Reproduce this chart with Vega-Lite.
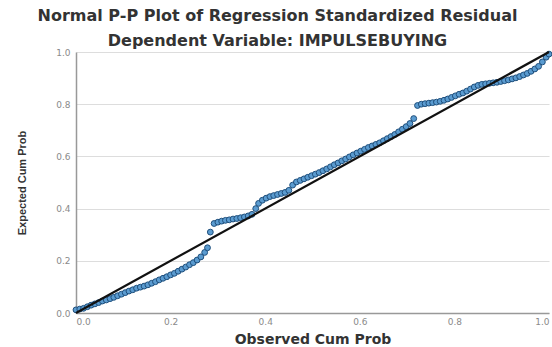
{
  "$schema": "https://vega.github.io/schema/vega-lite/v6.json",
  "autosize": {"type": "none"},
  "width": 473,
  "height": 261,
  "padding": {"left": 76, "top": 52, "right": 3, "bottom": 34},
  "background": "white",
  "title": {
    "text": ["Normal P-P Plot of Regression Standardized Residual", "Dependent Variable: IMPULSEBUYING"],
    "font": "DejaVu Sans",
    "fontSize": 16,
    "fontWeight": "bold",
    "color": "#333333",
    "lineHeight": 25,
    "anchor": "middle",
    "frame": "group",
    "dx": -35,
    "offset": -1
  },
  "datasets": {
    "pts": [
      {"obs":0.000,"exp":0.012},{"obs":0.008,"exp":0.015},{"obs":0.016,"exp":0.018},{"obs":0.024,"exp":0.024},
      {"obs":0.032,"exp":0.030},{"obs":0.040,"exp":0.035},{"obs":0.048,"exp":0.040},{"obs":0.056,"exp":0.046},
      {"obs":0.064,"exp":0.050},{"obs":0.072,"exp":0.055},{"obs":0.080,"exp":0.060},{"obs":0.088,"exp":0.066},
      {"obs":0.096,"exp":0.072},{"obs":0.104,"exp":0.078},{"obs":0.112,"exp":0.084},{"obs":0.120,"exp":0.089},
      {"obs":0.128,"exp":0.095},{"obs":0.136,"exp":0.099},{"obs":0.144,"exp":0.103},{"obs":0.152,"exp":0.108},
      {"obs":0.160,"exp":0.114},{"obs":0.168,"exp":0.120},{"obs":0.176,"exp":0.127},{"obs":0.184,"exp":0.133},
      {"obs":0.192,"exp":0.139},{"obs":0.200,"exp":0.146},{"obs":0.208,"exp":0.152},{"obs":0.216,"exp":0.160},
      {"obs":0.224,"exp":0.168},{"obs":0.232,"exp":0.176},{"obs":0.240,"exp":0.185},{"obs":0.248,"exp":0.193},
      {"obs":0.256,"exp":0.203},{"obs":0.264,"exp":0.215},{"obs":0.272,"exp":0.232},{"obs":0.278,"exp":0.250},
      {"obs":0.284,"exp":0.310},{"obs":0.292,"exp":0.343},{"obs":0.300,"exp":0.348},{"obs":0.308,"exp":0.352},
      {"obs":0.316,"exp":0.355},{"obs":0.324,"exp":0.357},{"obs":0.332,"exp":0.360},{"obs":0.340,"exp":0.362},
      {"obs":0.348,"exp":0.365},{"obs":0.356,"exp":0.368},{"obs":0.364,"exp":0.372},{"obs":0.372,"exp":0.378},
      {"obs":0.380,"exp":0.400},{"obs":0.386,"exp":0.420},{"obs":0.394,"exp":0.432},{"obs":0.402,"exp":0.440},
      {"obs":0.410,"exp":0.446},{"obs":0.418,"exp":0.450},{"obs":0.426,"exp":0.454},{"obs":0.434,"exp":0.458},
      {"obs":0.442,"exp":0.462},{"obs":0.450,"exp":0.470},{"obs":0.458,"exp":0.490},{"obs":0.466,"exp":0.502},
      {"obs":0.474,"exp":0.508},{"obs":0.482,"exp":0.514},{"obs":0.490,"exp":0.520},{"obs":0.498,"exp":0.526},
      {"obs":0.506,"exp":0.532},{"obs":0.514,"exp":0.538},{"obs":0.522,"exp":0.545},{"obs":0.530,"exp":0.552},
      {"obs":0.538,"exp":0.560},{"obs":0.546,"exp":0.568},{"obs":0.554,"exp":0.575},{"obs":0.562,"exp":0.583},
      {"obs":0.570,"exp":0.590},{"obs":0.578,"exp":0.598},{"obs":0.586,"exp":0.606},{"obs":0.594,"exp":0.613},
      {"obs":0.602,"exp":0.620},{"obs":0.610,"exp":0.627},{"obs":0.618,"exp":0.634},{"obs":0.626,"exp":0.640},
      {"obs":0.634,"exp":0.646},{"obs":0.642,"exp":0.652},{"obs":0.650,"exp":0.660},{"obs":0.658,"exp":0.668},
      {"obs":0.666,"exp":0.676},{"obs":0.674,"exp":0.684},{"obs":0.682,"exp":0.694},{"obs":0.690,"exp":0.704},
      {"obs":0.698,"exp":0.714},{"obs":0.706,"exp":0.726},{"obs":0.714,"exp":0.745},{"obs":0.722,"exp":0.795},
      {"obs":0.730,"exp":0.800},{"obs":0.738,"exp":0.802},{"obs":0.746,"exp":0.804},{"obs":0.754,"exp":0.806},
      {"obs":0.762,"exp":0.808},{"obs":0.770,"exp":0.811},{"obs":0.778,"exp":0.815},{"obs":0.786,"exp":0.820},
      {"obs":0.794,"exp":0.826},{"obs":0.802,"exp":0.832},{"obs":0.810,"exp":0.838},{"obs":0.818,"exp":0.843},
      {"obs":0.826,"exp":0.850},{"obs":0.834,"exp":0.858},{"obs":0.842,"exp":0.866},{"obs":0.850,"exp":0.872},
      {"obs":0.858,"exp":0.876},{"obs":0.866,"exp":0.878},{"obs":0.874,"exp":0.880},{"obs":0.882,"exp":0.882},
      {"obs":0.890,"exp":0.884},{"obs":0.898,"exp":0.887},{"obs":0.906,"exp":0.890},{"obs":0.914,"exp":0.893},
      {"obs":0.922,"exp":0.897},{"obs":0.930,"exp":0.901},{"obs":0.938,"exp":0.906},{"obs":0.946,"exp":0.912},
      {"obs":0.954,"exp":0.918},{"obs":0.962,"exp":0.926},{"obs":0.970,"exp":0.935},{"obs":0.978,"exp":0.945},
      {"obs":0.986,"exp":0.962},{"obs":0.994,"exp":0.980},{"obs":1.000,"exp":0.992}
    ],
    "ref": [{"obs": 0, "exp": 0}, {"obs": 1, "exp": 1}]
  },
  "config": {
    "view": {"stroke": null},
    "axis": {
      "labelFont": "DejaVu Sans",
      "labelFontSize": 9,
      "labelColor": "#8a8a8a",
      "titleFont": "DejaVu Sans",
      "titleColor": "#333333",
      "domainColor": "#999999",
      "domainWidth": 1.5,
      "ticks": false,
      "gridColor": "#dddddd",
      "gridWidth": 1.2
    }
  },
  "layer": [
    {
      "data": {"name": "pts"},
      "mark": {"type": "point", "shape": "circle", "filled": true, "size": 34, "fill": "#5a9bd0", "stroke": "#1f4f7c", "strokeWidth": 1, "opacity": 1},
      "encoding": {
        "x": {"field": "obs", "type": "quantitative", "scale": {"domain": [0, 1], "nice": false, "zero": true},
          "axis": {"title": "Observed Cum Prob", "values": [0, 0.2, 0.4, 0.6, 0.8, 1.0], "format": ".1f", "grid": false,
            "labelPadding": 4, "titleFontSize": 14, "titleFontWeight": "bold", "titlePadding": 6}},
        "y": {"field": "exp", "type": "quantitative", "scale": {"domain": [0, 1], "nice": false},
          "axis": {"title": "Expected Cum Prob", "values": [0, 0.2, 0.4, 0.6, 0.8, 1.0], "format": ".1f", "grid": true,
            "labelPadding": 6, "titleFontSize": 11, "titleFontWeight": "bold", "titleFont": "Liberation Sans", "titlePadding": 28}}
      }
    },
    {
      "data": {"name": "ref"},
      "mark": {"type": "line", "color": "#111111", "strokeWidth": 2.2},
      "encoding": {
        "x": {"field": "obs", "type": "quantitative"},
        "y": {"field": "exp", "type": "quantitative"}
      }
    }
  ]
}
